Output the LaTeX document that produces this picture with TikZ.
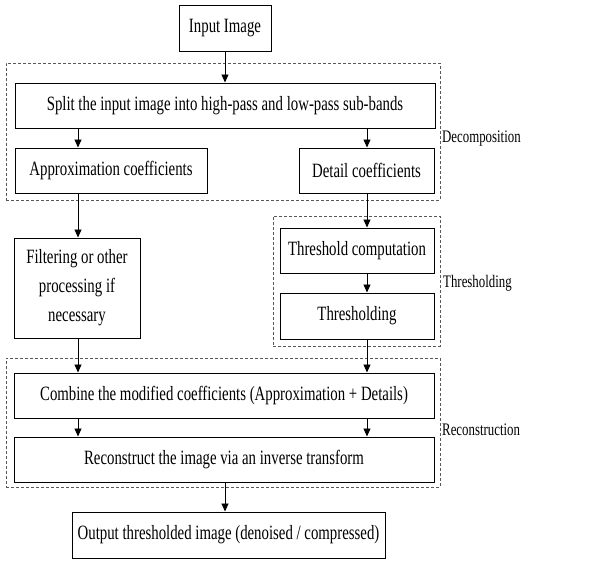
\documentclass[tikz,border=0pt]{standalone}
\usepackage{fontspec}
\setmainfont{Liberation Serif}[FakeStretch=0.73]
\usetikzlibrary{arrows.meta}
\begin{document}
\begin{tikzpicture}[x=1pt,y=-1pt,
  blk/.style={draw=black, line width=1pt, inner sep=0pt, align=center, font=\fontsize{20.3}{29}\selectfont},
  grp/.style={draw=black!65, line width=1pt, dash pattern=on 3pt off 2pt, inner sep=0pt},
  lbl/.style={anchor=west, inner sep=0pt, font=\fontsize{17.6}{20}\selectfont},
  arr/.style={-{Triangle[length=8pt,width=7pt]}, line width=0.9pt}]
\useasboundingbox (0,0) rectangle (607,560);
% groups
\node[grp, minimum width=434pt, minimum height=137pt] (decomp) at (223,131.5) {};
\node[grp, minimum width=167pt, minimum height=130pt] (thgrp) at (356.5,281) {};
\node[grp, minimum width=434pt, minimum height=129pt] (recgrp) at (223,422.5) {};
% labels
\node[lbl] (ldec) at (442,139) {Decomposition};
\node[lbl] (lth) at (443,283) {Thresholding};
\node[lbl] (lrec) at (442,430) {Reconstruction};
% boxes
\node[blk, minimum width=92pt, minimum height=46pt] (input) at (225,28) {Input Image};
\node[blk, minimum width=420pt, minimum height=45pt] (split) at (225,105.5) {Split the input image into high-pass and low-pass sub-bands};
\node[blk, minimum width=192pt, minimum height=45pt] (approx) at (111,170.5) {Approximation coefficients};
\node[blk, minimum width=135pt, minimum height=45pt] (detail) at (366.5,170.5) {Detail coefficients};
\node[blk, minimum width=126pt, minimum height=100pt] (filter) at (77,288) {Filtering or other\\processing if\\necessary};
\node[blk, minimum width=154pt, minimum height=45pt] (thcomp) at (357,250.5) {Threshold computation};
\node[blk, minimum width=154pt, minimum height=46pt] (thresh) at (357,316) {Thresholding};
\node[blk, minimum width=420pt, minimum height=45pt] (combine) at (224,395.5) {Combine the modified coefficients (Approximation + Details)};
\node[blk, minimum width=420pt, minimum height=45pt] (recon) at (224,459.5) {Reconstruct the image via an inverse transform};
\node[blk, minimum width=313pt, minimum height=46pt] (output) at (228.5,535) {Output thresholded image (denoised / compressed)};
% columns
\coordinate (colL) at (78,0);
\coordinate (colR) at (367,0);
\coordinate (colM) at (225,0);
% arrows
\draw[arr] (input.south -| colM) -- (split.north -| colM);
\draw[arr] (split.south -| colL) -- (approx.north -| colL);
\draw[arr] (split.south -| colR) -- (detail.north -| colR);
\draw[arr] (approx.south -| colL) -- (filter.north -| colL);
\draw[arr] (detail.south -| colR) -- (thcomp.north -| colR);
\draw[arr] (thcomp.south -| colR) -- (thresh.north -| colR);
\draw[arr] (filter.south -| colL) -- (combine.north -| colL);
\draw[arr] (thresh.south -| colR) -- (combine.north -| colR);
\draw[arr] (combine.south -| colL) -- (recon.north -| colL);
\draw[arr] (combine.south -| colR) -- (recon.north -| colR);
\draw[arr] (recon.south -| colM) -- (output.north -| colM);
\end{tikzpicture}
\end{document}
